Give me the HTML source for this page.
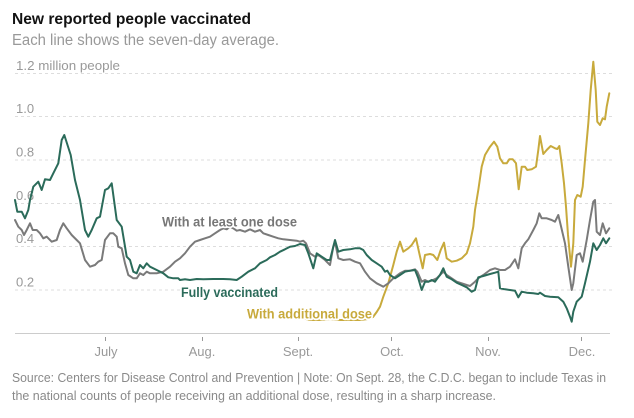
<!DOCTYPE html>
<html><head><meta charset="utf-8">
<style>
html,body{margin:0;padding:0;background:#fff;}
svg{display:block;font-family:"Liberation Sans",Arial,sans-serif;}
</style></head>
<body>
<svg width="634" height="418" viewBox="0 0 634 418" xmlns="http://www.w3.org/2000/svg">
<rect width="634" height="418" fill="#fff"/>
<text x="12" y="24" font-size="16" font-weight="bold" fill="#121212" textLength="239" lengthAdjust="spacingAndGlyphs">New reported people vaccinated</text>
<text x="12" y="45" font-size="15.5" fill="#999" textLength="267" lengthAdjust="spacingAndGlyphs">Each line shows the seven-day average.</text>

<g stroke="#ddd" stroke-width="1" stroke-dasharray="3,3">
<line x1="15" x2="612" y1="73.5" y2="73.5"/>
<line x1="15" x2="612" y1="116.5" y2="116.5"/>
<line x1="15" x2="612" y1="160" y2="160"/>
<line x1="15" x2="612" y1="203.5" y2="203.5"/>
<line x1="15" x2="612" y1="246.5" y2="246.5"/>
<line x1="15" x2="612" y1="290" y2="290"/>
</g>
<line x1="15" x2="610" y1="333.5" y2="333.5" stroke="#ccc" stroke-width="1"/>

<g font-size="13" fill="#999">
<text x="16" y="70" textLength="104" lengthAdjust="spacingAndGlyphs">1.2 million people</text>
<text x="16" y="113">1.0</text>
<text x="16" y="156.5">0.8</text>
<text x="16" y="200">0.6</text>
<text x="16" y="243">0.4</text>
<text x="16" y="286.5">0.2</text>
</g>

<g stroke="#999" stroke-width="1">
<line x1="105.5" x2="105.5" y1="337" y2="341"/>
<line x1="202.5" x2="202.5" y1="337" y2="341"/>
<line x1="298.5" x2="298.5" y1="337" y2="341"/>
<line x1="391.5" x2="391.5" y1="337" y2="341"/>
<line x1="488.5" x2="488.5" y1="337" y2="341"/>
<line x1="581.5" x2="581.5" y1="337" y2="341"/>
</g>
<g font-size="13" fill="#999" text-anchor="middle">
<text x="106" y="356">July</text>
<text x="202" y="356">Aug.</text>
<text x="298" y="356">Sept.</text>
<text x="392" y="356">Oct.</text>
<text x="488" y="356">Nov.</text>
<text x="582" y="356">Dec.</text>
</g>

<g fill="none" stroke-width="2" stroke-linejoin="round" stroke-linecap="round">
<polyline stroke="#c8aa3c" points="302,318 310,320 320,320 330,319 340,320 350,320 360,320 368,319 373,317 376.7,312 380,306.7 383.3,296.7 388.3,283.3 393.3,265 396.7,251.7 400,241.7 403.3,251.7 408.3,248.3 411.7,245 416,238.3 419.3,253.3 422.7,268.3 425,255 430,254 433.3,255 437.3,260 440.7,250 444,242.7 446.7,258.3 451.7,261.7 456.7,260.7 461.7,258.3 466.7,253.3 470,243.3 473.3,226.7 475,210 478.3,190 481.7,166.7 485,155 490,146.7 494,141.7 497.3,146.7 500,158.3 503.3,163.3 506.7,163.3 509.3,159.3 512.7,159.3 516,163.3 518.7,189.3 521.7,166.7 525,166.7 527.3,170 531.7,169.3 536,166.7 538.3,150 540,136 543.3,154 546.7,150 550.7,146 555,148.3 557.3,149 559.3,146 561.7,163.3 564,183.3 566,206.7 568,235 571,266.7 573.3,243.3 575,200 577.3,195 580.7,196.7 582.7,186.7 585,160 588.3,123.3 590.7,90 593.3,61.7 595.7,90 597.3,121.7 600,125 602.7,118.3 605,119.3 606.7,106.7 609.3,93.3"/>
<polyline stroke="#7a7a7a" points="15,220 18.3,226.7 21.7,230 24,235 26.7,230 30,223.3 32.7,230 36.7,230 40,233.3 43.3,238.3 46.7,236.7 51.7,241.7 56.7,240 60,230 63.3,223.3 66.7,228.3 71.7,235 76.7,240 80,243.3 85,260 90,266.7 95,265 98.3,261.7 101.7,260 105,240 110,233.3 113.3,233.3 116.7,236.7 118.3,246.7 121.7,248.3 125,263.3 128.3,275 133.3,278.3 136.7,278.3 140,273.3 143.3,275 146.7,271.7 150,273.3 156.7,273.3 163.3,271.7 170,266.7 175,261.7 180,258.3 185,253.3 190,246.7 195,241.7 200,240 205,238.3 210,236.7 215,233.3 220,230 223.3,228.3 226.7,229.3 230,226.7 233.3,228.3 236.7,230.7 240,230 245,231.7 250,229.3 255,231.7 260,230 263.3,233.3 268.3,235 273.3,236.7 278.3,238.3 283.3,239.3 290,240 296.7,240.7 300,241.7 303.3,240.7 306,243.3 310,253.3 315,256.7 318.3,255 325,260 330,265 333.3,246.7 335,241.7 338.3,258.3 343.3,260 350,259.3 355,261.7 360,263.3 365,271.7 370,278.3 376.7,283.3 383.3,286.7 388.3,283.3 393.3,278.3 400,273.3 405,270.7 410,270.7 415,269.3 417.3,271.7 421.7,281.7 425,280 428.3,281.7 431.7,280.7 436.7,278.3 440,275 443.3,271.7 446.7,275 451.7,278.3 456.7,281.7 461.7,283.3 466.7,285 470,286 475,281.7 478.3,278.3 483.3,275 490,270 495,268.3 500,270 505,270 510,266.7 515,259.3 518.3,268.3 521.7,248.3 525,243.3 528.3,239.3 533.3,230 536.7,223.3 539.3,213.3 541.7,218.3 546.7,218.3 551.7,220 555,221.7 558.3,215 560.7,225 565,243.3 568.3,266.7 571.7,290 573.3,283.3 576.7,255 580,253.3 582.7,261.7 586.7,240 590,220 593.3,201.7 595,200 596.7,231.7 600,235 602.7,223.3 606,233.3 609.3,228.3"/>
<polyline stroke="#2b6b5a" points="15,200 17.3,211.7 21.7,211.7 25,218.3 28.3,210 30,200 33.3,186.7 38.3,181.7 41.7,190 45,179.3 50,180 53.3,173.3 58.3,163.3 61.7,140 64.3,135 70.7,155 75,180 80,200 85,230 88.3,236.7 91.7,230 96.7,218.3 100,216.7 105,190 108.3,188.3 111.7,183.3 116.7,220 121.7,226.7 126.7,256.7 130,260 133.3,271.7 136.7,273.3 140,265 143.3,268.3 146.7,263.3 150,266.7 156.7,270 163.3,273.3 168.3,277.3 173.3,278.3 178.3,278.3 180,280 185,279.3 190,280 196.7,279 203.3,279.3 213.3,279 223.3,279 230,279.3 236.7,280 241.7,276.7 248.3,271.7 255,268.3 260,263.3 266.7,260 270,257.3 275,255 280,251.7 285,249.3 290,246.7 295,246 300,244 305,245 308.3,253.3 313.3,268.3 316.7,253.3 321.7,256.7 326.7,260 330,260 333.3,246.7 335,240 338.3,251.7 343.3,250 350,249.3 355,248.3 360,248.3 363.3,250 366.7,255 371.7,260 376.7,263.3 381.7,266.7 385,271.7 387.3,270.7 390,275 395,278.3 400,275 405,271.7 410,270.7 415,270 418.3,278.3 421.7,290 425,281.7 428.3,281.7 431.7,280 435,281.7 436.7,279.3 440,275 443.3,268.3 446.7,276.7 451.7,279.3 456.7,282.7 461.7,285 466.7,287.3 471.7,291.7 475,290 478.3,277.3 483.3,276 490,274 495,272.7 498.3,271.7 500,288.3 505,289.3 510,290 515,290.7 518.3,297.3 521.7,291.7 526.7,292.7 533.3,293.3 538.3,294 540,292.7 545,296 550,296.7 558.3,297.3 563.3,301.7 566.7,308.3 570,316.7 571.7,321.7 573.3,311.7 576.7,301.7 581.7,296.7 585,283.3 590,261.7 593.3,243.3 596.7,250 600,245 603.3,238.3 606,243.3 609.3,238.3"/>
</g>

<g font-size="13.5" font-weight="bold" stroke="#fff" stroke-width="3.5" stroke-linejoin="round" paint-order="stroke">
<text x="162" y="226.5" fill="#777" textLength="135" lengthAdjust="spacingAndGlyphs">With at least one dose</text>
<text x="181" y="297" fill="#2b6b5a" textLength="97" lengthAdjust="spacingAndGlyphs">Fully vaccinated</text>
<text x="247" y="318.7" fill="#c8aa3c" textLength="125" lengthAdjust="spacingAndGlyphs">With additional dose</text>
</g>

<g font-size="12.5" fill="#8a8a8a">
<text x="12" y="382" textLength="594" lengthAdjust="spacingAndGlyphs">Source: Centers for Disease Control and Prevention | Note: On Sept. 28, the C.D.C. began to include Texas in</text>
<text x="12" y="400" textLength="484" lengthAdjust="spacingAndGlyphs">the national counts of people receiving an additional dose, resulting in a sharp increase.</text>
</g>
</svg>
</body></html>
